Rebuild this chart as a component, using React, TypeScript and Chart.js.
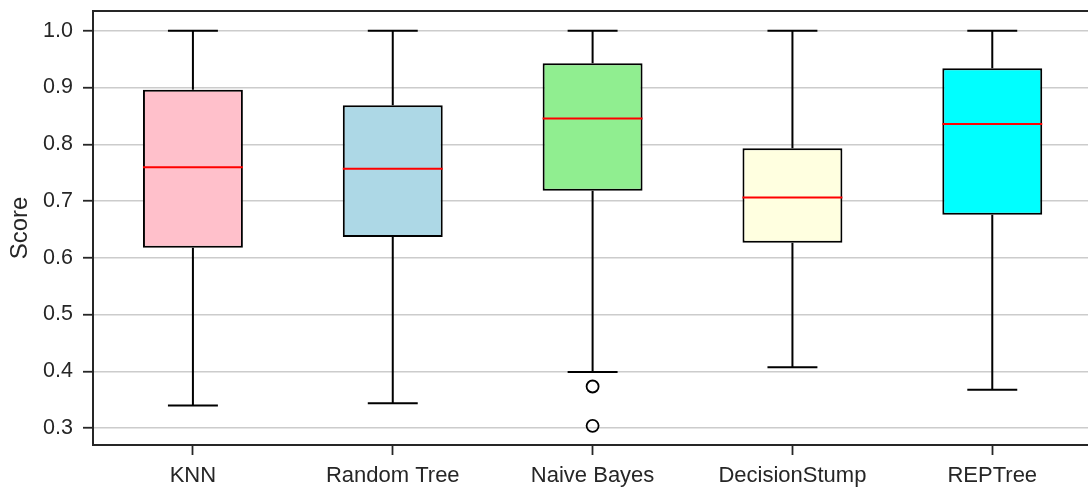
import React, { useEffect, useRef } from "react";
import { Chart, registerables } from "chart.js";

Chart.register(...registerables);

const categories = ["KNN", "Random Tree", "Naive Bayes", "DecisionStump", "REPTree"];
const whiskerLow = [0.340, 0.344, 0.399, 0.4073, 0.3674];
const q1 = [0.6178, 0.6365, 0.718, 0.6266, 0.6759];
const median = [0.7596, 0.7567, 0.8452, 0.7063, 0.8359];
const q3 = [0.8962, 0.8687, 0.9425, 0.793, 0.9337];
const whiskerHigh = [1.0, 1.0, 1.0, 1.0, 1.0];
const outlierCategories = ["Naive Bayes", "Naive Bayes"];
const outlierValues = [0.3733, 0.304];
const boxColors = ["#FFC0CB", "#ADD8E6", "#90EE90", "#FFFFE0", "#00FFFF"];
const yTicks = [0.3, 0.4, 0.5, 0.6, 0.7, 0.8, 0.9, 1.0];
const yMin = 0.27025;
const yMax = 1.03475;

const TEXT = "#262626";
const FONT = "'Liberation Sans', Arial, sans-serif";

const boxPlugin = {
  id: "boxWhiskers",
  afterDatasetsDraw(chart: any) {
    const { ctx, scales } = chart;
    const x = scales.x;
    const y = scales.y;
    const meta = chart.getDatasetMeta(0);
    ctx.save();
    ctx.lineCap = "butt";
    categories.forEach((_, i) => {
      const bar: any = meta.data[i];
      const cx = x.getPixelForValue(i);
      const half = bar.width / 2;
      const capHalf = half / 2;
      ctx.strokeStyle = "#000";
      ctx.lineWidth = 2;
      ctx.beginPath();
      ctx.moveTo(cx, y.getPixelForValue(q3[i]));
      ctx.lineTo(cx, y.getPixelForValue(whiskerHigh[i]));
      ctx.moveTo(cx, y.getPixelForValue(q1[i]));
      ctx.lineTo(cx, y.getPixelForValue(whiskerLow[i]));
      const yh = y.getPixelForValue(whiskerHigh[i]);
      const yl = y.getPixelForValue(whiskerLow[i]);
      ctx.moveTo(cx - capHalf, yh);
      ctx.lineTo(cx + capHalf, yh);
      ctx.moveTo(cx - capHalf, yl);
      ctx.lineTo(cx + capHalf, yl);
      ctx.stroke();
      ctx.strokeStyle = "#FF0000";
      ctx.lineWidth = 2;
      ctx.beginPath();
      const ym = y.getPixelForValue(median[i]);
      ctx.moveTo(cx - half, ym);
      ctx.lineTo(cx + half, ym);
      ctx.stroke();
    });
    ctx.restore();
  },
  afterDraw(chart: any) {
    const { ctx, chartArea } = chart;
    ctx.save();
    ctx.strokeStyle = TEXT;
    ctx.lineWidth = 2;
    ctx.beginPath();
    ctx.moveTo(chartArea.left - 1, chartArea.top);
    ctx.lineTo(chartArea.right + 1, chartArea.top);
    ctx.moveTo(chartArea.right, chartArea.top);
    ctx.lineTo(chartArea.right, chartArea.bottom);
    ctx.stroke();
    ctx.restore();
  },
};

export default function App() {
  const ref = useRef<HTMLCanvasElement | null>(null);
  useEffect(() => {
    if (!ref.current) return;
    const chart = new Chart(ref.current, {
      type: "bar",
      data: {
        labels: categories,
        datasets: [
          {
            type: "bar",
            label: "box",
            data: categories.map((_, i) => [q1[i], q3[i]]) as any,
            backgroundColor: boxColors,
            borderColor: "#000",
            borderWidth: 2,
            borderSkipped: false,
            barPercentage: 0.5,
            categoryPercentage: 1.0,
            order: 2,
          } as any,
          {
            type: "line",
            label: "outliers",
            data: outlierCategories.map((c, i) => ({ x: c, y: outlierValues[i] })) as any,
            showLine: false,
            pointRadius: 6,
            pointBorderWidth: 1.8,
            pointBorderColor: "#000",
            pointBackgroundColor: "rgba(0,0,0,0)",
            order: 1,
          } as any,
        ],
      },
      options: {
        responsive: false,
        animation: false,
        devicePixelRatio: 1,
        layout: { padding: { left: 0, top: 11, right: 7, bottom: 0 } },
        plugins: { legend: { display: false }, tooltip: { enabled: false } },
        scales: {
          x: {
            type: "category",
            offset: true,
            grid: {
              offset: false,
              drawOnChartArea: false,
              drawTicks: true,
              tickLength: 10,
              tickColor: TEXT,
              tickWidth: 1.8,
            },
            border: { display: true, color: TEXT, width: 2 },
            ticks: {
              color: TEXT,
              font: { family: FONT, size: 22 },
              padding: 8,
              maxRotation: 0,
              autoSkip: false,
            },
            afterFit: (s: any) => {
              s.height = 42;
              s.paddingLeft = 0;
              s.paddingRight = 0;
            },
          },
          y: {
            type: "linear",
            min: yMin,
            max: yMax,
            afterBuildTicks: (s: any) => {
              s.ticks = yTicks.map((v) => ({ value: v }));
            },
            grid: {
              color: "#cccccc",
              lineWidth: 1.5,
              drawTicks: true,
              tickLength: 10,
              tickColor: TEXT,
              tickWidth: 1.8,
            },
            border: { display: true, color: TEXT, width: 2 },
            ticks: {
              color: TEXT,
              font: { family: FONT, size: 21.5 },
              padding: 10,
              callback: (v: any) => Number(v).toFixed(1),
            },
            title: {
              display: true,
              text: "Score",
              color: TEXT,
              font: { family: FONT, size: 24 },
              padding: { top: 6, bottom: 0 },
            },
            afterFit: (s: any) => {
              s.width = 93;
              s.paddingTop = 0;
              s.paddingBottom = 0;
            },
          },
        },
      },
      plugins: [boxPlugin],
    });
    return () => chart.destroy();
  }, []);
  return (
    <div
      style={{
        position: "fixed",
        left: 0,
        top: 0,
        width: 1088,
        height: 487,
        overflow: "hidden",
        background: "#fff",
      }}
    >
      <canvas ref={ref} width={1100} height={487} style={{ display: "block" }} />
    </div>
  );
}
